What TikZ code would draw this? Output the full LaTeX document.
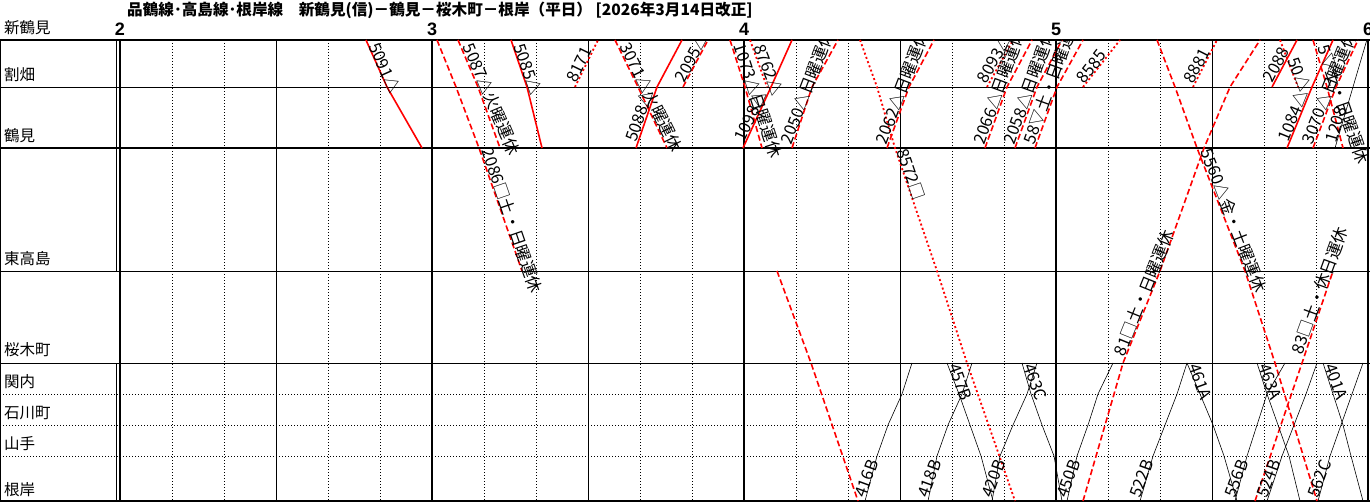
\documentclass[tikz,border=0pt]{standalone}
\usepackage{fontspec}
\setmainfont{Noto Sans CJK JP}
\newfontfamily\hnum{Liberation Sans}
\begin{document}
\begin{tikzpicture}[x=1pt,y=-1pt]
\tikzset{
 hourln/.style={line width=1.8pt},
 halfln/.style={line width=0.9pt},
 tenln/.style={line width=0.8pt, dash pattern=on 1pt off 2pt},
 stnbold/.style={line width=1.8pt},
 stnthin/.style={line width=0.9pt},
 stndot/.style={line width=0.8pt, dash pattern=on 1pt off 2pt},
 solidR/.style={red, line width=1.6pt},
 dashR/.style={red, line width=1.6pt, dash pattern=on 6pt off 3pt},
 dotR/.style={red, line width=1.8pt, dash pattern=on 2pt off 2.5pt},
 blk/.style={black, line width=0.6pt},
 lab/.style={font=\fontsize{16.5}{16.5}\selectfont, inner sep=0pt, anchor=south west},
 stn/.style={font=\fontsize{15.5}{16}\selectfont, inner sep=0pt, anchor=west},
 hour/.style={font=\hnum\bfseries\fontsize{18}{18}\selectfont, inner sep=0pt},
}
\clip (0,0) rectangle (1370,503);
\fill[white] (0,0) rectangle (1370,503);
% title
\node[font=\bfseries\fontsize{15.6}{15.6}\selectfont, anchor=west, inner sep=0pt] (title) at (127,10) {品鶴線･高島線･根岸線　新鶴見(信)－鶴見－桜木町－根岸（平日） [2026年3月14日改正]};
% hour numbers
\node[hour] (h2) at (120,29) {2};
\node[hour] (h3) at (432,29) {3};
\node[hour] (h4) at (744,29) {4};
\node[hour] (h5) at (1056,29) {5};
\node[hour] (h6) at (1368,29) {6};
% station names
\node[stn] (s0) at (4,28) {新鶴見};
\node[stn] (s1) at (4,75) {割畑};
\node[stn] (s2) at (4,136) {鶴見};
\node[stn] (s3) at (4,259) {東高島};
\node[stn] (s4) at (4,350) {桜木町};
\node[stn] (s5) at (4,382) {関内};
\node[stn] (s6) at (4,413) {石川町};
\node[stn] (s7) at (4,444) {山手};
\node[stn] (s8) at (4,490) {根岸};
% grid: minute lines
\foreach \h in {120,432,744,1056}{
  \foreach \m in {1,2,4,5}{
    \draw[tenln] (\h+\m*52,40) -- (\h+\m*52,501);
  }
  \draw[halfln] (\h+156,40) -- (\h+156,501);
}
% station lines
\draw[stndot] (0,394) -- (1368,394);
\draw[stndot] (0,425) -- (1368,425);
\draw[stndot] (0,456) -- (1368,456);
\draw[stnthin] (0,87) -- (1370,87);
\draw[stnthin] (0,271) -- (1370,271);
\draw[stnthin] (0,363) -- (1370,363);
\draw[stnbold] (0,40) -- (1370,40);
\draw[stnbold] (0,148) -- (1370,148);
\draw[stnbold] (0,501) -- (1370,501);
% verticals
\draw[line width=1.4pt] (0.7,40) -- (0.7,501);
\draw[halfln] (116,40) -- (116,271);
\draw[halfln] (116,363) -- (116,501);
\foreach \x in {120,432,744,1056,1368}{
  \draw[hourln] (\x,40) -- (\x,501);
}
\begin{scope}
\clip (120,40) rectangle (1370,501);
% red solid
\draw[solidR] (366,40) -- (387,87) -- (422,148);
\draw[solidR] (511,40) -- (527,87) -- (542,148);
\draw[solidR] (636,148) -- (657,87) -- (682,40);
\draw[solidR] (743,148) -- (771,87) -- (792,40);
\draw[solidR] (1272,87) -- (1297,40);
\draw[solidR] (1287,148) -- (1312,87) -- (1333,40);
% red dashed
\draw[dashR] (437,40) -- (456,87) -- (479,148) -- (522,271);
\draw[dashR] (458,40) -- (478,87) -- (500,148);
\draw[dashR] (615,40) -- (638,87) -- (667,148);
\draw[dashR] (683,87) -- (708,40);
\draw[dashR] (730,40) -- (745,87) -- (762,148);
\draw[dashR] (792,148) -- (812,87) -- (838,40);
\draw[dashR] (887,148) -- (909,87) -- (934,40);
\draw[dashR] (985,148) -- (1007,87) -- (1032,40);
\draw[dashR] (1015,148) -- (1037,87) -- (1062,40);
\draw[dashR] (1035,148) -- (1057,87) -- (1083,40);
\draw[dashR] (1157,40) -- (1175,87) -- (1197,148) -- (1245,271) -- (1275,363) -- (1317,501);
\draw[dashR] (1083,501) -- (1123,363) -- (1160,271) -- (1204,148) -- (1230,87) -- (1260,40);
\draw[dashR] (1255,501) -- (1302,363) -- (1333,271);
\draw[dashR] (777,271) -- (811,363) -- (858,501);
\draw[dashR] (1313,148) -- (1336,87) -- (1358,40);
\draw[dashR] (1313,40) -- (1327,87) -- (1343,148);
% red dotted
\draw[dotR] (575,87) -- (598,40);
\draw[dotR] (860,40) -- (877,87) -- (895,148) -- (937,271) -- (967,363) -- (1015,501);
\draw[dotR] (750,40) -- (767,87);
\draw[dotR] (987,87) -- (1013,40);
\draw[dotR] (1083,87) -- (1120,40);
\draw[dotR] (1193,87) -- (1217,40);
\draw[dotR] (1280,40) -- (1298,87);
% black
\draw[blk] (1335,148) -- (1368,36);
\draw[blk] (865,501) -- (877,456) -- (888,425) -- (902,394) -- (912,363);
\draw[blk] (928,501) -- (937,456) -- (948,425) -- (962,394) -- (972,363);
\draw[blk] (992,501) -- (1000,456) -- (1013,425) -- (1027,394) -- (1037,363);
\draw[blk] (1067,501) -- (1077,456) -- (1088,425) -- (1098,394) -- (1113,363);
\draw[blk] (1140,501) -- (1153,456) -- (1165,425) -- (1177,394) -- (1187,363);
\draw[blk] (1235,501) -- (1247,456) -- (1257,425) -- (1267,394) -- (1285,363);
\draw[blk] (1267,501) -- (1282,456) -- (1294,425) -- (1306,394) -- (1317,363);
\draw[blk] (1318,501) -- (1330,456) -- (1341,425) -- (1352,394) -- (1363,363);
\draw[blk] (947,363) -- (959,394) -- (970,425) -- (981,456) -- (993,501);
\draw[blk] (1022,363) -- (1031,394) -- (1042,425) -- (1054,456) -- (1062,501);
\draw[blk] (1187,363) -- (1200,394) -- (1213,425) -- (1224,456) -- (1237,501);
\draw[blk] (1257,363) -- (1267,394) -- (1278,425) -- (1289,456) -- (1300,501);
\draw[blk] (1323,363) -- (1333,394) -- (1343,425) -- (1351,456) -- (1363,501);
% labels
\node[lab, rotate=-66] (l1) at (368,46) {5091△};
\node[lab, rotate=-71] (l2) at (513,46) {5085△};
\node[lab, rotate=71] (l3) at (637,143) {5088△};
\node[lab, rotate=65] (l4) at (745,143) {1098△};
\node[lab, rotate=62] (l5) at (1273,84) {2088};
\node[lab, rotate=68] (l6) at (1289,143) {1084△};
\node[lab, rotate=-71] (l7) at (480,151) {2086□土・日曜運休};
\node[lab, rotate=-67] (l8) at (461,47) {5087△火曜運休};
\node[lab, rotate=-64] (l9) at (618,47) {3071△火曜運休};
\node[lab, rotate=62] (l10) at (685,84) {2095△};
\node[lab, rotate=-72] (l11) at (732,46) {1073△日曜運休};
\node[lab, rotate=69] (l12) at (793,146) {2050△日曜運休};
\node[lab, rotate=69] (l13) at (888,146) {2062△日曜運休};
\node[lab, rotate=70] (l14) at (986,146) {2066△日曜運休};
\node[lab, rotate=70] (l15) at (1016,146) {2058△日曜運休};
\node[lab, rotate=70] (l16) at (1036,146) {58▽土・日曜運休};
\node[lab, rotate=-69] (l17) at (1199,152) {5560△金・土曜運休};
\node[lab, rotate=68] (l18) at (1126,358) {81□土・日曜運休};
\node[lab, rotate=70] (l19) at (1304,356) {83□土・休日運休};
\node[lab, rotate=68] (l20) at (1314,146) {3070△日曜運休};
\node[lab, rotate=64] (l21) at (577,84) {8171};
\node[lab, rotate=-71] (l22) at (896,151) {8572□};
\node[lab, rotate=-69] (l23) at (753,47) {8762△};
\node[lab, rotate=61] (l24) at (988,85) {8093△日曜運休};
\node[lab, rotate=52] (l25) at (1085,85) {8585};
\node[lab, rotate=63] (l26) at (1194,85) {8881};
\node[lab, rotate=-69] (l27) at (1287,60) {50△};
\node[lab, rotate=-71] (l28) at (1316,48) {5▽土・日曜運休};
\node[lab, rotate=74] (l29) at (1337,144) {1208};
% black train labels
\node[lab, rotate=70] (b1) at (866,499) {416B};
\node[lab, rotate=70] (b2) at (929,499) {418B};
\node[lab, rotate=70] (b3) at (993,499) {420B};
\node[lab, rotate=70] (b4) at (1068,499) {450B};
\node[lab, rotate=70] (b5) at (1141,499) {522B};
\node[lab, rotate=70] (b6) at (1236,499) {556B};
\node[lab, rotate=70] (b7) at (1268,499) {524B};
\node[lab, rotate=70] (b8) at (1319,499) {562C};
\node[lab, rotate=-70] (b9) at (948,366) {457B};
\node[lab, rotate=-70] (b10) at (1023,366) {463C};
\node[lab, rotate=-70] (b11) at (1188,366) {461A};
\node[lab, rotate=-70] (b12) at (1258,366) {463A};
\node[lab, rotate=-70] (b13) at (1324,366) {401A};
\end{scope}
\end{tikzpicture}
\end{document}
